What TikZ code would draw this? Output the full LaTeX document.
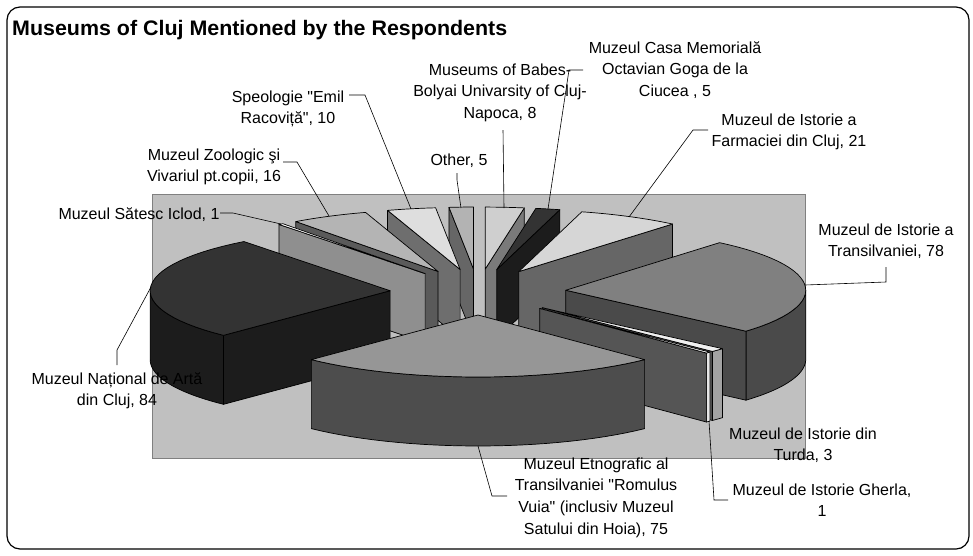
\documentclass[tikz,border=0pt]{standalone}
\usepackage{fontspec}
\usepackage{graphicx}
\setmainfont{Liberation Sans}
\newfontfamily\lblfont{Liberation Sans}
\definecolor{plotbg}{HTML}{C0C0C0}
\definecolor{plotedge}{HTML}{808080}
\definecolor{otherT}{HTML}{B3B3B3}\definecolor{otherS}{HTML}{666666}
\definecolor{babesT}{HTML}{CFCFCF}\definecolor{babesS}{HTML}{7A7A7A}
\definecolor{speoT}{HTML}{DEDEDE}\definecolor{speoS}{HTML}{6E6E6E}
\definecolor{casaT}{HTML}{333333}\definecolor{casaS}{HTML}{1C1C1C}
\definecolor{zooT}{HTML}{B4B4B4}\definecolor{zooS}{HTML}{5A5A5A}
\definecolor{farmT}{HTML}{D6D6D6}\definecolor{farmS}{HTML}{666666}
\definecolor{iclodT}{HTML}{FFFFFF}\definecolor{iclodS}{HTML}{8F8F8F}
\definecolor{transT}{HTML}{808080}\definecolor{transS}{HTML}{4A4A4A}
\definecolor{natT}{HTML}{333333}\definecolor{natS}{HTML}{1C1C1C}
\definecolor{turdaT}{HTML}{F0F0F0}\definecolor{turdaS}{HTML}{4F4F4F}\definecolor{turdaO}{HTML}{A3A3A3}
\definecolor{gherlaT}{HTML}{FFFFFF}\definecolor{gherlaS}{HTML}{555555}\definecolor{gherlaO}{HTML}{E6E6E6}
\definecolor{etnoT}{HTML}{969696}\definecolor{etnoO}{HTML}{4D4D4D}
\def\qqcx{478}\def\qqcy{292}\def\qqex{88}\def\qqey{23}
\def\qqra{240}\def\qqrb{62}\def\qqth{69}
\newcommand{\qqradial}[2]{%
  \pgfmathsetmacro{\qqpx}{\qqax+\qqra*sin(#1)}%
  \pgfmathsetmacro{\qqpy}{\qqay-\qqrb*cos(#1)}%
  \filldraw[pieedge,fill=#2] (\qqax,\qqay) -- (\qqpx,\qqpy) -- (\qqpx,\qqpy+\qqth) -- (\qqax,\qqay+\qqth) -- cycle;}
\newcommand{\pieslice}[5]{%
  \pgfmathsetmacro{\qqmid}{(#1+#2)/2}%
  \pgfmathsetmacro{\qqax}{\qqcx+\qqex*sin(\qqmid)}%
  \pgfmathsetmacro{\qqay}{\qqcy-\qqey*cos(\qqmid)}%
  \pgfmathsetmacro{\qqoa}{max(#1,90)}%
  \pgfmathsetmacro{\qqob}{min(#2,270)}%
  \ifdim\qqoa pt<\qqob pt
    \filldraw[pieedge,fill=#5] plot[domain=\qqoa:\qqob,samples=30,variable=\t] ({\qqax+\qqra*sin(\t)},{\qqay-\qqrb*cos(\t)}) -- plot[domain=\qqob:\qqoa,samples=30,variable=\t] ({\qqax+\qqra*sin(\t)},{\qqay+\qqth-\qqrb*cos(\t)}) -- cycle;
  \fi
  \pgfmathsetmacro{\qqsa}{sin(#1)}%
  \ifdim\qqsa pt<-0.001pt \qqradial{#1}{#4}\fi
  \pgfmathsetmacro{\qqsb}{sin(#2)}%
  \ifdim\qqsb pt>0.001pt \qqradial{#2}{#4}\fi
  \filldraw[pieedge,fill=#3] (\qqax,\qqay) -- plot[domain=#1:#2,samples=30,variable=\t] ({\qqax+\qqra*sin(\t)},{\qqay-\qqrb*cos(\t)}) -- cycle;}
\begin{document}
\begin{tikzpicture}[x=1pt,y=-1pt,
  pieedge/.style={draw=black,line width=0.7pt,line join=round},
  leader/.style={draw=black,line width=0.6pt},
  lbl/.style={font=\lblfont\fontsize{16}{21.7}\selectfont,align=center,anchor=base,inner sep=0pt}]
\useasboundingbox (0,0) rectangle (973,555);
\draw[line width=1.2pt,rounded corners=13pt] (7,7) rectangle (969,549);
\node[anchor=base west,inner sep=0pt,font=\fontsize{21}{25}\selectfont\bfseries] (title) at (12,35) {\scalebox{1.02}[1]{Museums of Cluj Mentioned by the Respondents}};
\filldraw[fill=plotbg,draw=plotedge,line width=0.8pt] (152,194) rectangle (805,458);
% slices, back to front
\pieslice{354.137}{360}{otherT}{otherS}{otherS}
\pieslice{0}{9.381}{babesT}{babesS}{babesS}
\pieslice{342.410}{354.137}{speoT}{speoS}{speoS}
\pieslice{9.381}{15.244}{casaT}{casaS}{casaS}
\pieslice{323.648}{342.410}{zooT}{zooS}{zooS}
\pieslice{15.244}{39.870}{farmT}{farmS}{farmS}
\pieslice{322.476}{323.648}{iclodT}{iclodS}{iclodS}
\pieslice{39.870}{131.336}{transT}{transS}{transS}
\pieslice{223.974}{322.476}{natT}{natS}{natS}
\pieslice{131.336}{134.853}{turdaT}{turdaS}{turdaO}
\pieslice{134.853}{136.026}{gherlaT}{gherlaS}{gherlaO}
\pieslice{136.026}{223.974}{etnoT}{etnoO}{etnoO}
% labels (base = baseline of last line)
\node[lbl] (casaL) at (675,96.4) {Muzeul Casa Memorială\\Octavian Goga de la\\Ciucea , 5};
\node[lbl] (babesL) at (500,118.4) {Museums of Babes-\\Bolyai Univarsity of Cluj-\\Napoca, 8};
\node[lbl] (speoL) at (288,123.7) {Speologie "Emil\\Racoviță", 10};
\node[lbl] (zooL) at (214,181.7) {Muzeul Zoologic şi\\Vivariul pt.copii, 16};
\node[lbl] (otherL) at (459,165) {Other, 5};
\node[lbl] (iclodL) at (139,219) {Muzeul Sătesc Iclod, 1};
\node[lbl] (natL) at (117,405.7) {Muzeul Național de Artă\\din Cluj, 84};
\node[lbl] (farmL) at (789,146.7) {Muzeul de Istorie a\\Farmaciei din Cluj, 21};
\node[lbl] (transL) at (886,256.7) {Muzeul de Istorie a\\Transilvaniei, 78};
\node[lbl] (turdaL) at (803,460.7) {Muzeul de Istorie din\\Turda, 3};
\node[lbl] (gherlaL) at (822,516.7) {Muzeul de Istorie Gherla,\\1};
\node[lbl] (etnoL) at (596,534.1) {Muzeul Etnografic al\\Transilvaniei "Romulus\\Vuia" (inclusiv Muzeul\\Satului din Hoia), 75};
% leader points
\coordinate (casaA) at (583,70);\coordinate (casaB) at (569,70);\coordinate (casaC) at (548,209);
\coordinate (babesA) at (503,130);\coordinate (babesC) at (504,208);
\coordinate (speoA) at (349,95);\coordinate (speoB) at (365,95);\coordinate (speoC) at (411,209);
\coordinate (zooA) at (283,162);\coordinate (zooB) at (297,162);\coordinate (zooC) at (329,216);
\coordinate (otherA) at (457,173);\coordinate (otherB) at (457,180);\coordinate (otherC) at (461,208);
\coordinate (iclodA) at (220,213);\coordinate (iclodB) at (233,213);\coordinate (iclodC) at (281,224);
\coordinate (natA) at (117,365);\coordinate (natB) at (117,350);\coordinate (natC) at (151,287);
\coordinate (farmA) at (708,130);\coordinate (farmB) at (693,130);\coordinate (farmC) at (629,217);
\coordinate (transA) at (886,267);\coordinate (transB) at (886,282);\coordinate (transC) at (805,285);
\coordinate (etnoA) at (507,496);\coordinate (etnoB) at (492,496);\coordinate (etnoC) at (478,446);
\coordinate (gherlaA) at (728,500);\coordinate (gherlaB) at (714,500);\coordinate (gherlaC) at (709,421);
\draw[leader] (casaA) -- (casaB) -- (casaC);
\draw[leader] (babesA) -- (babesC);
\draw[leader] (speoA) -- (speoB) -- (speoC);
\draw[leader] (zooA) -- (zooB) -- (zooC);
\draw[leader] (otherA) -- (otherB) -- (otherC);
\draw[leader] (iclodA) -- (iclodB) -- (iclodC);
\draw[leader] (natA) -- (natB) -- (natC);
\draw[leader] (farmA) -- (farmB) -- (farmC);
\draw[leader] (transA) -- (transB) -- (transC);
\draw[leader] (etnoA) -- (etnoB) -- (etnoC);
\draw[leader] (gherlaA) -- (gherlaB) -- (gherlaC);
\end{tikzpicture}
\end{document}
